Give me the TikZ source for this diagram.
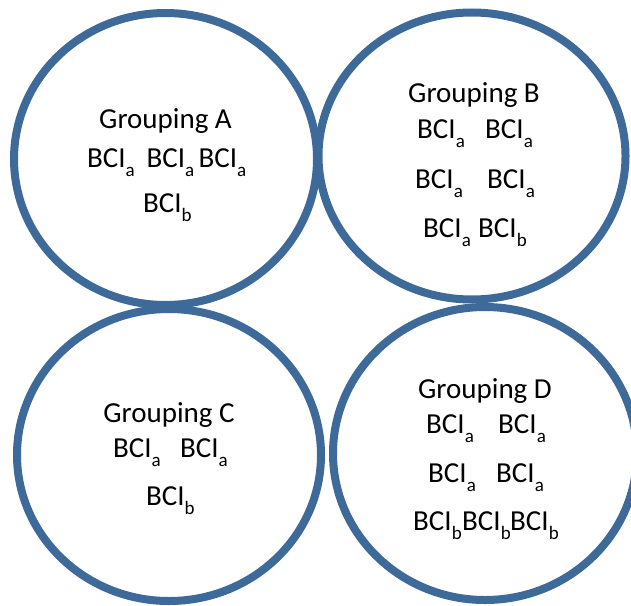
\documentclass[tikz,border=0pt]{standalone}
\usepackage{fontspec}
\setmainfont{Carlito}
\definecolor{ringblue}{RGB}{62,106,154}
\newcommand{\bcisub}[1]{BCI\raisebox{-9.5pt}{\fontsize{19}{19}\selectfont #1}}
\tikzset{
  ring/.style={draw=ringblue, line width=8pt},
  title/.style={anchor=base, inner sep=0pt, font=\fontsize{29}{29}\selectfont},
  item/.style={anchor=base west, inner sep=0pt, font=\fontsize{29}{29}\selectfont}
}
\begin{document}
\begin{tikzpicture}[x=1pt,y=-1pt]
\useasboundingbox (0,0) rectangle (631,605);
\clip (0,0) rectangle (631,605);
\fill[white] (0,0) rectangle (631,605);
% rings
\draw[ring] (165.5,159) ellipse [x radius=151.5, y radius=146];
\draw[ring] (472,156) ellipse [x radius=153.5, y radius=143.5];
\draw[ring] (169,455) ellipse [x radius=152, y radius=146];
\draw[ring] (485,453.5) ellipse [x radius=152, y radius=146.5];
% Grouping A
\node[title] (tA) at (165.5,128) {Grouping A};
\node[item] (a1) at (87,167) {\bcisub{a}};
\node[item] (a2) at (146.5,167) {\bcisub{a}};
\node[item] (a3) at (198.5,167) {\bcisub{a}};
\node[item] (a4) at (143,212) {\bcisub{b}};
% Grouping B
\node[title] (tB) at (474,102) {Grouping B};
\node[item] (b1) at (417,138) {\bcisub{a}};
\node[item] (b2) at (485,138) {\bcisub{a}};
\node[item] (b3) at (415,188) {\bcisub{a}};
\node[item] (b4) at (487,188) {\bcisub{a}};
\node[item] (b5) at (423,237) {\bcisub{a}};
\node[item] (b6) at (478,237) {\bcisub{b}};
% Grouping C
\node[title] (tC) at (169,422) {Grouping C};
\node[item] (c1) at (113,457) {\bcisub{a}};
\node[item] (c2) at (180,457) {\bcisub{a}};
\node[item] (c3) at (146,505) {\bcisub{b}};
% Grouping D
\node[title] (tD) at (485,398) {Grouping D};
\node[item] (d1) at (426,433) {\bcisub{a}};
\node[item] (d2) at (498,433) {\bcisub{a}};
\node[item] (d3) at (428,482) {\bcisub{a}};
\node[item] (d4) at (496,482) {\bcisub{a}};
\node[item] (d5) at (413,530) {\bcisub{b}};
\node[item] (d6) at (462,530) {\bcisub{b}};
\node[item] (d7) at (510,530) {\bcisub{b}};
\end{tikzpicture}
\end{document}
